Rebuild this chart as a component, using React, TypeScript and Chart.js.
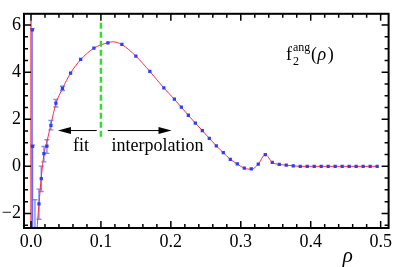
import React, { useEffect, useRef } from "react";
import { Chart, registerables } from "chart.js";
Chart.register(...registerables);

const FONT = '"Liberation Serif", "Times New Roman", serif';

// Monte Carlo points (rho, value) with asymmetric error bars
const pointRho = [0.0019, 0.0022, 0.0057, 0.0114, 0.0147, 0.0185, 0.0228, 0.0285, 0.0356, 0.045, 0.0566, 0.071, 0.09, 0.11, 0.13, 0.15, 0.17, 0.19,
  0.205, 0.215, 0.225, 0.235, 0.245, 0.255, 0.265, 0.275, 0.285, 0.295, 0.305, 0.315, 0.325, 0.335, 0.345, 0.355, 0.365, 0.375,
  0.385, 0.395, 0.405, 0.415, 0.425, 0.435, 0.445, 0.455, 0.465, 0.475, 0.485, 0.495];
const pointVal = [5.8, 0.85, -4.5, -1.6, -0.52, 0.54, 0.86, 1.74, 2.68, 3.31, 3.96, 4.54, 5.02, 5.25, 5.18, 4.68, 4.03, 3.33,
  2.85, 2.51, 2.17, 1.84, 1.52, 1.19, 0.87, 0.58, 0.3, 0.1, -0.08, -0.11, 0.09, 0.5, 0.17, 0.08, 0.05, 0.02,
  0, 0, 0, 0, 0, 0, 0, 0, 0, 0, 0, 0];
const errMinus = [15.8, 10.85, 5.5, 0.65, 0.55, 0.35, 0.31, 0.19, 0.16, 0.09, 0.06, 0.04, 0.03, 0.03, 0.02, 0.02, 0.02, 0.02,
  0.02, 0.02, 0.02, 0.02, 0.02, 0.02, 0.02, 0.02, 0.02, 0.02, 0.02, 0.02, 0.02, 0.02, 0.02, 0.02, 0.02, 0.02,
  0.01, 0.01, 0.01, 0.01, 0.01, 0.01, 0.01, 0.01, 0.01, 0.01, 0.01, 0.01];
const errPlus = [0.05, 0.05, 3.08, 0.63, 0.53, 0.3, 0.27, 0.21, 0.16, 0.09, 0.06, 0.04, 0.03, 0.03, 0.02, 0.02, 0.02, 0.02,
  0.02, 0.02, 0.02, 0.02, 0.02, 0.02, 0.02, 0.02, 0.02, 0.02, 0.02, 0.02, 0.02, 0.02, 0.02, 0.02, 0.02, 0.02,
  0.01, 0.01, 0.01, 0.01, 0.01, 0.01, 0.01, 0.01, 0.01, 0.01, 0.01, 0.01];

// Red curve: fit (rho < 0.1) and interpolation (rho > 0.1)
const curveRho = [0.0075, 0.0088, 0.0114, 0.0147, 0.0185, 0.0228, 0.0285, 0.0356, 0.045, 0.0566, 0.071, 0.09, 0.11, 0.117, 0.13, 0.15, 0.17, 0.19,
  0.205, 0.215, 0.225, 0.235, 0.245, 0.255, 0.265, 0.275, 0.285, 0.295, 0.305, 0.315, 0.325, 0.335, 0.345, 0.355, 0.365, 0.375,
  0.385, 0.395, 0.405, 0.415, 0.425, 0.435, 0.445, 0.455, 0.465, 0.475, 0.485, 0.495];
const curveVal = [-3.6, -2.65, -1.62, -0.48, 0.5, 1.05, 1.78, 2.66, 3.3, 3.96, 4.53, 5.02, 5.25, 5.29, 5.17, 4.68, 4.03, 3.33,
  2.85, 2.51, 2.17, 1.84, 1.52, 1.19, 0.87, 0.58, 0.3, 0.1, -0.08, -0.12, 0.09, 0.5, 0.17, 0.08, 0.05, 0.02,
  0, 0, 0, 0, 0, 0, 0, 0, 0, 0, 0, 0];
// vertical red branch at rho = 0
const poleRho = [0, 0];
const poleVal = [6.2, -4];
// green dashed separator at rho = 0.1
const sepRho = [0.1, 0.1];
const sepVal = [6.1, 1.25];

const xTickValues = [0, 0.1, 0.2, 0.3, 0.4, 0.5];
const yTickValues = [-2, 0, 2, 4, 6];
const xMinorStep = 0.02;
const yMinorStep = 0.5;
const xRange = [-0.01, 0.5114];
const yRange = [-2.62, 6.48];

const overlay = {
  id: "overlay",
  beforeDatasetsDraw(chart: any) {
    const { ctx, chartArea: a, scales } = chart;
    const x = scales.x, y = scales.y;
    ctx.save();
    ctx.beginPath();
    ctx.rect(a.left, a.top, a.right - a.left, a.bottom - a.top);
    ctx.clip();
    ctx.strokeStyle = "rgba(80,100,255,0.75)";
    ctx.lineWidth = 1.4;
    for (let i = 0; i < pointRho.length; i++) {
      const px = x.getPixelForValue(pointRho[i]);
      const top = y.getPixelForValue(pointVal[i] + errPlus[i]);
      const bot = y.getPixelForValue(pointVal[i] - errMinus[i]);
      if (bot - top < 3) continue;
      ctx.beginPath();
      ctx.moveTo(px, top);
      ctx.lineTo(px, bot);
      ctx.moveTo(px - 2.5, top);
      ctx.lineTo(px + 2.5, top);
      ctx.moveTo(px - 2.5, bot);
      ctx.lineTo(px + 2.5, bot);
      ctx.stroke();
    }
    ctx.restore();
  },
  afterDraw(chart: any) {
    const { ctx, chartArea: a, scales } = chart;
    const x = scales.x, y = scales.y;
    ctx.save();
    // frame
    ctx.strokeStyle = "#000";
    ctx.lineWidth = 2;
    ctx.strokeRect(a.left, a.top, a.right - a.left, a.bottom - a.top);
    // ticks
    ctx.lineWidth = 1.5;
    ctx.beginPath();
    for (let i = 0; i * xMinorStep <= xRange[1]; i++) {
      const v = i * xMinorStep;
      const major = i % 5 === 0;
      const L = major ? 7 : 4;
      const px = x.getPixelForValue(v);
      ctx.moveTo(px, a.bottom);
      ctx.lineTo(px, a.bottom - L);
      ctx.moveTo(px, a.top);
      ctx.lineTo(px, a.top + L);
    }
    for (let i = -5; i * yMinorStep <= yRange[1]; i++) {
      const v = i * yMinorStep;
      if (v < yRange[0]) continue;
      const major = i % 4 === 0;
      const L = major ? 7 : 4;
      const py = y.getPixelForValue(v);
      ctx.moveTo(a.left, py);
      ctx.lineTo(a.left + L, py);
      ctx.moveTo(a.right, py);
      ctx.lineTo(a.right - L, py);
    }
    ctx.stroke();

    // arrows
    const ay = y.getPixelForValue(1.52);
    const drawArrow = (fromV: number, tipV: number) => {
      const x1 = x.getPixelForValue(fromV);
      const x2 = x.getPixelForValue(tipV);
      const dir = x2 > x1 ? 1 : -1;
      ctx.lineWidth = 1;
      ctx.beginPath();
      ctx.moveTo(x1, ay);
      ctx.lineTo(x2 - dir * 10, ay);
      ctx.stroke();
      ctx.beginPath();
      ctx.moveTo(x2, ay);
      ctx.lineTo(x2 - dir * 13, ay - 3.5);
      ctx.lineTo(x2 - dir * 13, ay + 3.5);
      ctx.closePath();
      ctx.fill();
    };
    ctx.fillStyle = "#000";
    drawArrow(0.094, 0.0385);
    drawArrow(0.1097, 0.2009);

    // texts
    ctx.textBaseline = "alphabetic";
    ctx.textAlign = "left";
    ctx.font = `18px ${FONT}`;
    ctx.fillText("fit", x.getPixelForValue(0.06), y.getPixelForValue(0.67));
    ctx.fillText("interpolation", x.getPixelForValue(0.115), y.getPixelForValue(0.67));

    // f_2^ang(rho)
    const fx = x.getPixelForValue(0.3647);
    const fy = y.getPixelForValue(4.5);
    ctx.font = `18px ${FONT}`;
    ctx.fillText("f", fx, fy);
    ctx.font = `12px ${FONT}`;
    ctx.fillText("2", fx + 7, fy + 5);
    ctx.fillText("ang", fx + 7, fy - 9);
    ctx.font = `18px ${FONT}`;
    let cx = fx + 25;
    ctx.fillText("(", cx, fy);
    cx += ctx.measureText("(").width + 0.5;
    ctx.font = `italic 18px ${FONT}`;
    ctx.fillText("ρ", cx, fy);
    cx += ctx.measureText("ρ").width + 1.5;
    ctx.font = `18px ${FONT}`;
    ctx.fillText(")", cx, fy);

    // axis title
    ctx.font = `italic 21px ${FONT}`;
    ctx.textAlign = "center";
    ctx.fillText("ρ", x.getPixelForValue(0.453), 262);
    ctx.restore();
  },
};

export default function App() {
  const ref = useRef<HTMLCanvasElement>(null);
  useEffect(() => {
    document.body.style.margin = "0";
    const canvas = ref.current!;
    const chart = new Chart(canvas, {
      type: "scatter",
      data: {
        datasets: [
          {
            label: "points",
            data: pointRho.map((r, i) => ({ x: r, y: pointVal[i] })),
            backgroundColor: "#2b3dff",
            borderColor: "#2b3dff",
            pointStyle: "rect",
            pointRadius: 2.3,
            borderWidth: 0,
            showLine: false,
            order: 0,
          },
          {
            label: "separator",
            type: "line",
            data: sepRho.map((r, i) => ({ x: r, y: sepVal[i] })),
            borderColor: "#33dd33",
            borderWidth: 2.5,
            borderDash: [6, 3],
            pointRadius: 0,
            order: 1,
          },
          {
            label: "curve",
            type: "line",
            data: curveRho.map((r, i) => ({ x: r, y: curveVal[i] })),
            borderColor: "#ff2a4a",
            borderWidth: 1,
            pointRadius: 0,
            cubicInterpolationMode: "monotone",
            order: 2,
          },
          {
            label: "pole",
            type: "line",
            data: poleRho.map((r, i) => ({ x: r, y: poleVal[i] })),
            borderColor: "#ff2a4a",
            borderWidth: 1.3,
            pointRadius: 0,
            order: 2,
          },
        ],
      } as any,
      options: {
        animation: false,
        responsive: false,
        layout: { padding: { top: 4, right: 5, left: 0, bottom: 0 } },
        plugins: { legend: { display: false }, tooltip: { enabled: false } },
        scales: {
          x: {
            type: "linear",
            min: xRange[0],
            max: xRange[1],
            grid: { display: false, drawTicks: false },
            border: { display: false },
            afterBuildTicks: (s: any) => {
              s.ticks = xTickValues.map((v) => ({ value: v }));
            },
            afterFit: (s: any) => {
              s.height = 39;
            },
            ticks: {
              padding: 3,
              color: "#000",
              font: { family: FONT, size: 18 },
              maxRotation: 0,
              autoSkip: false,
              callback: (v: any) => Number(v).toFixed(1),
            },
          },
          y: {
            type: "linear",
            min: yRange[0],
            max: yRange[1],
            grid: { display: false, drawTicks: false },
            border: { display: false },
            afterBuildTicks: (s: any) => {
              s.ticks = yTickValues.map((v) => ({ value: v }));
            },
            afterFit: (s: any) => {
              s.width = 24;
            },
            ticks: {
              padding: 3,
              color: "#000",
              font: { family: FONT, size: 18 },
              autoSkip: false,
              callback: (v: any) => (Number(v) < 0 ? "\u2212" + Math.abs(Number(v)) : String(v)),
            },
          },
        },
      },
      plugins: [overlay],
    } as any);
    return () => chart.destroy();
  }, []);
  return <canvas ref={ref} width={395} height={267} style={{ display: "block" }} />;
}
